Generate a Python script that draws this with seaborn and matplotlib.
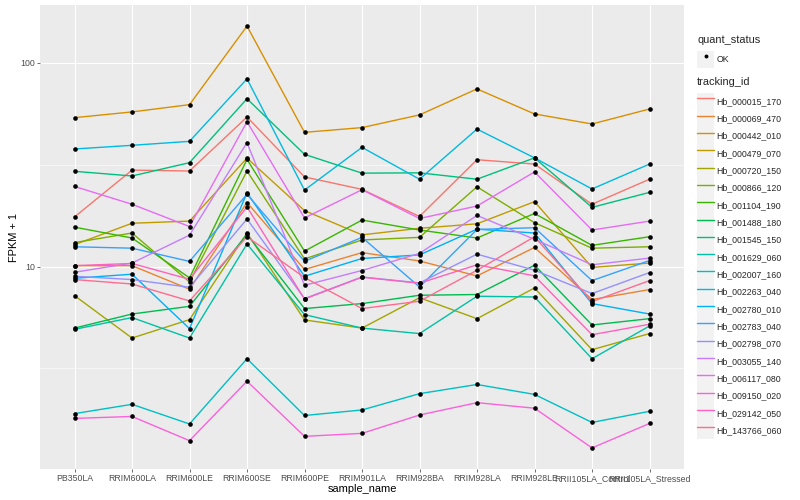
import numpy as np
import pandas as pd
import matplotlib
matplotlib.use("Agg")
import matplotlib.pyplot as plt
import seaborn as sns
from matplotlib.legend_handler import HandlerLine2D
from matplotlib.patches import Rectangle
from matplotlib.lines import Line2D
from matplotlib.ticker import FixedLocator, FixedFormatter, NullFormatter

# ---------------- data ----------------
samples = ["PB350LA", "RRIM600LA", "RRIM600LE", "RRIM600SE", "RRIM600PE",
           "RRIM901LA", "RRIM928BA", "RRIM928LA", "RRIM928LE",
           "RRII105LA_Control", "RRII105LA_Stressed"]

tracking_ids = ["Hb_000015_170", "Hb_000069_470", "Hb_000442_010", "Hb_000479_070",
                "Hb_000720_150", "Hb_000866_120", "Hb_001104_190", "Hb_001488_180",
                "Hb_001545_150", "Hb_001629_060", "Hb_002007_160", "Hb_002263_040",
                "Hb_002780_010", "Hb_002783_040", "Hb_002798_070", "Hb_003055_140",
                "Hb_006117_080", "Hb_009150_020", "Hb_029142_050", "Hb_143766_060"]

line_colors = ["#F8766D", "#EA8331", "#D89000", "#C09B00", "#A3A500", "#7CAE00",
               "#39B600", "#00BB4E", "#00BF7D", "#00C1A3", "#00BFC4", "#00BAE0",
               "#00B0F6", "#35A2FF", "#9590FF", "#C77CFF", "#E76BF3", "#FA62DB",
               "#FF62BC", "#FF6C91"]

# FPKM + 1 per sample (order of `samples`)
hb_000015_170 = [17.5, 29.7, 29.4, 54.1, 27.5, 23.9, 17.6, 33.4, 31.8, 20.2, 26.8]
hb_000069_470 = [10.1, 10.1, 7.74, 20.6, 9.67, 11.7, 10.65, 8.99, 12.4, 6.89, 7.71]
hb_000442_010 = [53.7, 57.3, 62.2, 151.0, 45.5, 48.0, 55.4, 74.3, 56.0, 50.0, 59.2]
hb_000479_070 = [12.8, 16.3, 16.7, 34.0, 18.8, 14.3, 15.4, 16.2, 20.8, 9.9, 10.4]
hb_000720_150 = [7.2, 4.46, 5.49, 14.6, 5.47, 4.99, 7.03, 5.55, 7.85, 3.91, 4.69]
hb_000866_120 = [13.1, 14.6, 8.4, 29.4, 10.9, 13.5, 13.9, 24.6, 16.4, 12.3, 12.5]
hb_001104_190 = [15.6, 13.8, 8.8, 33.5, 11.9, 16.9, 15.1, 13.8, 18.2, 12.7, 14.0]
hb_001488_180 = [4.99, 5.85, 6.38, 14.4, 6.22, 6.58, 7.23, 7.29, 10.15, 5.17, 5.55]
hb_001545_150 = [29.3, 27.8, 32.3, 66.5, 35.5, 28.7, 28.8, 26.8, 34.1, 19.5, 23.1]
hb_001629_060 = [4.92, 5.62, 4.46, 12.9, 5.81, 4.99, 4.69, 7.15, 7.09, 3.53, 5.11]
hb_002007_160 = [1.90, 2.11, 1.69, 3.53, 1.86, 1.98, 2.38, 2.64, 2.36, 1.72, 1.95]
hb_002263_040 = [37.7, 39.3, 41.1, 83.2, 23.7, 38.4, 26.8, 47.2, 34.1, 24.0, 31.8]
hb_002780_010 = [8.76, 9.17, 4.96, 23.0, 8.96, 10.95, 11.4, 15.25, 14.6, 6.58, 5.85]
hb_002783_040 = [12.5, 12.3, 10.6, 22.6, 10.6, 13.9, 7.94, 15.2, 15.5, 8.53, 10.7]
hb_002798_070 = [8.96, 8.63, 7.91, 17.1, 6.96, 8.89, 8.31, 11.5, 9.59, 7.37, 9.34]
hb_003055_140 = [9.37, 10.4, 14.25, 40.5, 8.09, 9.56, 11.6, 17.8, 13.6, 10.2, 11.0]
hb_006117_080 = [24.7, 20.2, 15.7, 51.3, 17.3, 23.8, 17.2, 19.8, 29.1, 15.1, 16.7]
hb_009150_020 = [1.80, 1.84, 1.40, 2.74, 1.47, 1.52, 1.87, 2.15, 2.02, 1.29, 1.70]
hb_029142_050 = [10.1, 10.35, 8.66, 19.6, 6.93, 8.86, 8.28, 10.2, 9.0, 4.63, 5.21]
hb_143766_060 = [8.63, 8.21, 6.78, 14.0, 8.83, 6.22, 6.76, 9.59, 14.0, 6.73, 8.53]

series = [hb_000015_170, hb_000069_470, hb_000442_010, hb_000479_070, hb_000720_150,
          hb_000866_120, hb_001104_190, hb_001488_180, hb_001545_150, hb_001629_060,
          hb_002007_160, hb_002263_040, hb_002780_010, hb_002783_040, hb_002798_070,
          hb_003055_140, hb_006117_080, hb_009150_020, hb_029142_050, hb_143766_060]

rows = []
for tid, vals in zip(tracking_ids, series):
    for s, v in zip(samples, vals):
        rows.append({"tracking_id": tid, "sample_name": s, "fpkm": v, "quant_status": "OK"})
df = pd.DataFrame(rows)
palette = dict(zip(tracking_ids, line_colors))

# ---------------- style ----------------
sns.set_theme(style="darkgrid")
plt.rcParams["font.family"] = ["Liberation Sans", "DejaVu Sans"]

W, H = 800, 500
fig = plt.figure(figsize=(8, 5), dpi=100)
ax = fig.add_axes([40 / W, 31 / H, 644 / W, 464 / H])
ax.set_facecolor("#EBEBEB")

sns.lineplot(data=df, x="sample_name", y="fpkm", hue="tracking_id",
             hue_order=tracking_ids, palette=palette, units="tracking_id",
             estimator=None, sort=False, linewidth=1.0, legend=False, ax=ax)
sns.scatterplot(data=df, x="sample_name", y="fpkm", color="black", s=11,
                linewidth=0, legend=False, ax=ax, zorder=5)

ax.set_yscale("log")
lo, hi = np.log10(df["fpkm"].min()), np.log10(df["fpkm"].max())
pad = 0.05 * (hi - lo)
ax.set_ylim(10 ** (lo - pad), 10 ** (hi + pad))
ax.set_xlim(-0.6, len(samples) - 0.4)

ax.yaxis.set_major_locator(FixedLocator([10, 100]))
ax.yaxis.set_major_formatter(FixedFormatter(["10", "100"]))
ax.yaxis.set_minor_locator(FixedLocator([10 ** 0.5, 10 ** 1.5]))
ax.yaxis.set_minor_formatter(NullFormatter())

ax.grid(True, which="major", color="white", linewidth=0.8)
ax.grid(True, which="minor", axis="y", color="white", linewidth=0.4)
ax.set_axisbelow(True)
for sp in ax.spines.values():
    sp.set_visible(False)

ax.tick_params(axis="both", which="major", length=2.0, width=0.5, color="#333333",
               labelsize=6.3, labelcolor="#4D4D4D", pad=1.5, direction="out",
               bottom=True, left=True)
ax.tick_params(axis="y", which="minor", length=0)

ax.set_xlabel("sample_name", fontsize=7.9, color="black", labelpad=0.5)
ax.set_ylabel("FPKM + 1", fontsize=7.9, color="black", labelpad=1)


# ---------------- legends ----------------
class KeyHandler(HandlerLine2D):
    def create_artists(self, legend, orig_handle, xdescent, ydescent, width, height,
                       fontsize, trans):
        bg = Rectangle((-xdescent, -ydescent), width, height, facecolor="#F2F2F2",
                       edgecolor="none", transform=trans)
        arts = super().create_artists(legend, orig_handle, xdescent, ydescent,
                                      width, height, fontsize, trans)
        return [bg] + list(arts)


common = dict(frameon=False, fontsize=6.3, title_fontsize=7.9, handlelength=1.95,
              handleheight=2.67, labelspacing=0.0, handletextpad=0.3,
              borderaxespad=0, borderpad=0, alignment="left")

h1 = [Line2D([], [], linestyle="none", marker="o", markersize=2.8,
             markerfacecolor="black", markeredgewidth=0)]
leg1 = fig.legend(h1, ["OK"], title="quant_status", loc="upper left",
                  bbox_to_anchor=(697 / W, 1 - 35 / H),
                  handler_map={Line2D: KeyHandler()}, **common)

h2 = [Line2D([], [], color=c, linewidth=1.0) for c in line_colors]
leg2 = fig.legend(h2, tracking_ids, title="tracking_id", loc="upper left",
                  bbox_to_anchor=(697 / W, 1 - 77 / H),
                  handler_map={Line2D: KeyHandler()}, **common)
leg1._legend_box.sep = 4
leg2._legend_box.sep = 4

fig.savefig("out.png", dpi=100)
